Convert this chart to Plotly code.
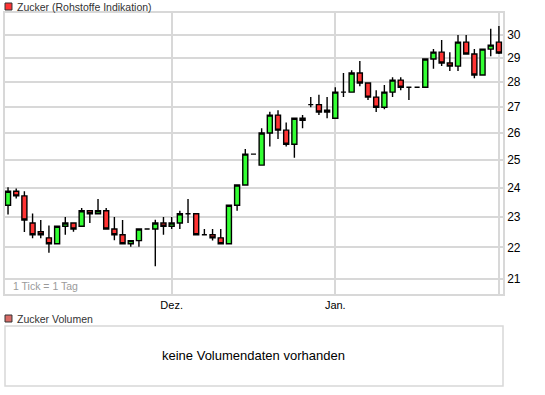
import plotly.graph_objects as go

# ---- data ----
days = list(range(61))
open_ = [23.40, 23.88, 23.72, 22.80, 22.51, 22.31, 22.12, 22.69, 22.80, 22.69,
         23.21, 23.11, 23.21, 22.60, 22.41, 22.12, 22.22, 22.60, 22.60, 22.80,
         22.69, 22.80, 23.11, 23.11, 22.41, 22.41, 22.31, 22.12, 23.40, 24.10,
         25.21, 24.81, 26.00, 26.69, 26.11, 25.58, 26.57, 27.10, 27.10, 26.81,
         26.57, 27.60, 27.60, 28.38, 27.97, 27.40, 27.00, 27.60, 28.09, 27.80,
         27.80, 27.80, 28.97, 29.26, 28.80, 28.67, 29.69, 29.18, 28.30, 29.39,
         29.69]
high = [24.02, 23.98, 23.88, 23.12, 22.90, 22.72, 22.69, 23.00, 22.80, 23.30,
        23.21, 23.61, 23.30, 23.00, 22.90, 22.22, 22.60, 22.60, 22.91, 23.00,
        23.00, 23.21, 23.61, 23.11, 22.60, 22.60, 22.60, 23.40, 24.10, 25.40,
        25.21, 26.18, 26.82, 26.88, 26.40, 26.57, 26.69, 27.40, 27.49, 27.40,
        27.80, 28.38, 28.50, 28.88, 27.97, 27.68, 27.89, 28.21, 28.21, 27.80,
        27.80, 28.97, 29.39, 29.78, 29.26, 30.00, 30.00, 29.39, 29.39, 30.28,
        30.40]
low = [23.08, 23.63, 22.50, 22.30, 22.30, 21.83, 22.12, 22.41, 22.51, 22.69,
       22.80, 23.11, 22.60, 22.23, 22.12, 22.02, 22.02, 22.60, 21.40, 22.41,
       22.60, 22.60, 22.80, 22.41, 22.41, 22.22, 22.12, 22.12, 23.21, 24.10,
       25.21, 24.81, 25.49, 25.77, 25.49, 25.08, 26.18, 27.00, 26.69, 26.57,
       26.57, 27.40, 27.60, 27.84, 27.28, 26.81, 26.92, 27.40, 27.68, 27.28,
       27.80, 27.80, 28.56, 28.67, 28.47, 28.47, 29.18, 28.17, 28.30, 29.08,
       29.18]
close = [23.88, 23.72, 22.90, 22.41, 22.41, 22.12, 22.69, 22.80, 22.60, 23.21,
         23.11, 23.21, 22.60, 22.41, 22.12, 22.22, 22.60, 22.60, 22.80, 22.69,
         22.80, 23.11, 23.11, 22.41, 22.41, 22.31, 22.12, 23.40, 24.10, 25.21,
         25.21, 26.00, 26.69, 26.11, 25.58, 26.57, 26.49, 27.10, 26.81, 26.88,
         27.60, 27.60, 28.38, 27.97, 27.40, 27.00, 27.60, 28.09, 27.80, 27.80,
         27.80, 28.97, 29.26, 28.80, 28.67, 29.69, 29.18, 28.30, 29.39, 29.56,
         29.22]
month_tick_pos = [20, 40, 60]
month_tick_text = ["Dez.", "Jan.", ""]
y_ticks = [21, 22, 23, 24, 25, 26, 27, 28, 29, 30]

W, H = 545, 395
L, R, T, B = 3, 42, 13, 101
PW, PH = W - L - R, H - T - B

def px(x):
    return (x - L) / PW

def py(y):
    return (H - B - y) / PH

FONT = "Liberation Sans, Arial, sans-serif"

fig = go.Figure()
fig.add_trace(go.Candlestick(
    x=days, open=open_, high=high, low=low, close=close,
    increasing=dict(line=dict(color="#000000", width=1.4), fillcolor="#33ff33"),
    decreasing=dict(line=dict(color="#000000", width=1.4), fillcolor="#ff3333"),
    whiskerwidth=0, showlegend=False, hoverinfo="skip",
))

shapes = [
    dict(type="rect", xref="paper", yref="paper", x0=px(3), x1=px(10), y0=py(10), y1=py(3),
         fillcolor="#ff3333", line=dict(color="#333333", width=1)),
    dict(type="rect", xref="paper", yref="paper", x0=px(3), x1=px(10), y0=py(322), y1=py(315),
         fillcolor="#d96b66", line=dict(color="#333333", width=1)),
    dict(type="rect", xref="paper", yref="paper", x0=px(3), x1=px(503), y0=py(386), y1=py(326),
         fillcolor="rgba(0,0,0,0)", line=dict(color="#d8d8d8", width=1.5)),
]

annotations = [
    dict(text="Zucker (Rohstoffe Indikation)", xref="paper", yref="paper", x=px(13), y=py(7),
         xanchor="left", yanchor="middle", showarrow=False,
         font=dict(family=FONT, size=10.5, color="#333333")),
    dict(text="1 Tick = 1 Tag", xref="paper", yref="paper", x=px(9), y=py(286),
         xanchor="left", yanchor="middle", showarrow=False,
         font=dict(family=FONT, size=10.5, color="#9a9a9a")),
    dict(text="Zucker Volumen", xref="paper", yref="paper", x=px(13), y=py(319),
         xanchor="left", yanchor="middle", showarrow=False,
         font=dict(family=FONT, size=10.5, color="#333333")),
    dict(text="keine Volumendaten vorhanden", xref="paper", yref="paper", x=px(252), y=py(355),
         xanchor="center", yanchor="middle", showarrow=False,
         font=dict(family=FONT, size=13, color="#000000")),
]

fig.update_layout(
    width=W, height=H,
    margin=dict(l=L, r=R, t=T, b=B, pad=0),
    paper_bgcolor="white", plot_bgcolor="white",
    font=dict(family=FONT, size=11, color="#000000"),
    shapes=shapes, annotations=annotations,
    boxgap=0.12,
    xaxis=dict(
        type="linear", range=[-0.37, 60.5], rangeslider=dict(visible=False),
        tickmode="array", tickvals=month_tick_pos, ticktext=month_tick_text,
        showgrid=True, gridcolor="#d8d8d8", gridwidth=1.5,
        showline=True, linecolor="#d8d8d8", linewidth=1.5, mirror=True,
        ticks="", zeroline=False, tickfont=dict(family=FONT, size=11, color="#000000"),
    ),
    yaxis=dict(
        type="log", range=[1.31289, 1.49109], autorange=False,
        side="right", tickmode="array", tickvals=y_ticks,
        ticktext=[str(v) for v in y_ticks],
        showgrid=True, gridcolor="#d8d8d8", gridwidth=1.5,
        showline=True, linecolor="#d8d8d8", linewidth=1.5, mirror=True,
        ticks="", zeroline=False, tickfont=dict(family=FONT, size=12, color="#000000"),
    ),
)

fig.write_html("out.html", config={"displayModeBar": False},
               post_script="document.body.style.margin='0';document.body.style.overflow='hidden';")
